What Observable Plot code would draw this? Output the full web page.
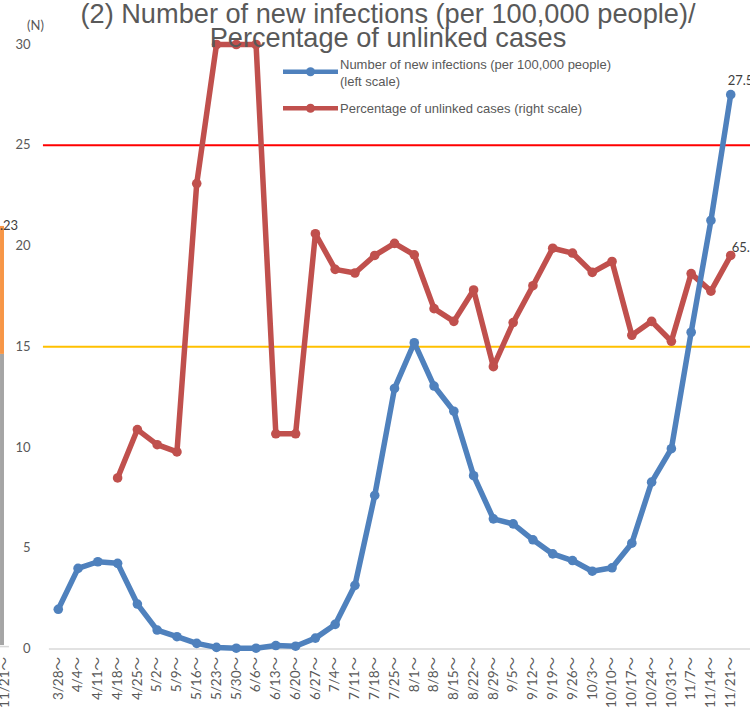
<!DOCTYPE html>
<html>
<head>
<meta charset="utf-8">
<script src="https://cdn.jsdelivr.net/npm/d3@7"></script>
<script src="https://cdn.jsdelivr.net/npm/@observablehq/plot@0.6"></script>
<style>
  html, body { margin: 0; padding: 0; background: #fff; overflow: hidden; }
  #wrap { position: relative; width: 750px; height: 714px; overflow: hidden; }
  #overlay { position: absolute; left: 0; top: 0; pointer-events: none; }
</style>
</head>
<body>
<div id="wrap"></div>
<script>
// ---- data ----
const weeks = ["3/28","4/4","4/11","4/18","4/25","5/2","5/9","5/16","5/23","5/30","6/6","6/13","6/20","6/27","7/4","7/11","7/18","7/25","8/1","8/8","8/15","8/22","8/29","9/5","9/12","9/19","9/26","10/3","10/10","10/17","10/24","10/31","11/7","11/14","11/21"];
const newInfections = [1.97,4.00,4.33,4.25,2.23,0.94,0.61,0.28,0.08,0.04,0.04,0.17,0.14,0.54,1.22,3.16,7.62,12.93,15.20,13.05,11.80,8.60,6.46,6.21,5.42,4.72,4.39,3.86,4.03,5.25,8.28,9.94,15.72,21.27,27.51];
const unlinkedPct = [null,null,null,28.3,36.3,33.8,32.6,77.0,100,100,100,35.6,35.6,68.7,62.8,62.2,65.1,67.1,65.2,56.3,54.2,59.4,46.7,54.0,60.1,66.3,65.5,62.3,64.1,51.9,54.2,50.9,62.1,59.2,65.1];
const leftTicks = [0,5,10,15,20,25,30];
const thresholds = [25, 15];
const thresholdColors = ["#FF0000", "#FFC000"];
const rightScaleMax = 100;   // right axis 0-100% shares the left 0-30 range
const leftScaleMax = 30;
// fragment of a neighbouring chart cut off at the left edge
const neighborLabel = "11/21";
const neighborParts = ["#A5A5A5", "#F79646"];
const neighborValues = [14.45, 6.35];
const neighborBase = 0.17;
const neighborTotalText = ".23";

const tilde = "\uFF5E";
const rows = weeks.map((w, i) => ({i, week: w, inf: newInfections[i], pct: unlinkedPct[i]}));
const pctRows = rows.filter(d => d.pct != null);
const last = rows[rows.length - 1];
const toLeft = p => p * leftScaleMax / rightScaleMax;

let acc = neighborBase;
const neighbor = neighborValues.map((v, k) => { const r = {color: neighborParts[k], y1: acc, y2: acc + v}; acc += v; return r; });
const NX = -2.72; // neighbour fragment position (in week-index units)

const blue = "#4F81BD", red = "#C0504D";

const chart = Plot.plot({
  width: 750,
  height: 714,
  marginLeft: 38,
  marginRight: 0,
  marginTop: 44,
  marginBottom: 65.5,
  x: {type: "linear", domain: [-1, 35]},
  y: {domain: [0, 30]},
  style: {fontFamily: "Lato, 'Noto Sans CJK JP', sans-serif", fontSize: "13px", color: "#595959", background: "transparent", overflow: "visible"},
  marks: [
    // neighbour fragment
    Plot.rect(neighbor, {x1: NX - 0.2, x2: NX, y1: "y1", y2: "y2", fill: "color"}),
    Plot.ruleY([neighborBase * 0.7], {x1: NX - 0.2, x2: NX + 0.25, stroke: "#D9D9D9", strokeWidth: 1.5}),
    Plot.text([neighborTotalText], {x: NX + 0.69, y: neighborBase + neighborValues[0] + neighborValues[1] + 0.05, text: d => d, textAnchor: "end", fill: "#404040", fontSize: 13}),
    // baseline and threshold lines
    Plot.ruleY([0], {x1: -0.45, x2: 35, stroke: "#D9D9D9", strokeWidth: 1.5}),
    Plot.ruleY(thresholds, {x1: -0.75, x2: 35, stroke: (d, k) => thresholdColors[k], strokeWidth: 2}),
    // axes
    Plot.axisY({ticks: leftTicks, tickSize: 0, tickPadding: 8, label: null, fontSize: 13, fill: "#595959"}),
    Plot.axisX({ticks: [NX, ...d3.range(weeks.length)], tickFormat: d => (d < 0 ? neighborLabel : weeks[d]) + tilde,
      tickRotate: -90, tickSize: 0, tickPadding: 8, label: null, fontSize: 13.5, fill: "#595959"}),
    // series
    Plot.line(rows, {x: "i", y: d => d.pct == null ? NaN : toLeft(d.pct), stroke: red, strokeWidth: 5.5}),
    Plot.dot(pctRows, {x: "i", y: d => toLeft(d.pct), r: 4.8, fill: red}),
    Plot.line(rows, {x: "i", y: "inf", stroke: blue, strokeWidth: 5.5}),
    Plot.dot(rows, {x: "i", y: "inf", r: 4.8, fill: blue}),
    // data labels
    Plot.text([last], {x: "i", y: "inf", text: d => d.inf.toFixed(2), textAnchor: "start", lineAnchor: "bottom", dx: -3, dy: -10, fill: "#404040", fontSize: 13}),
    Plot.text([last], {x: "i", y: d => toLeft(d.pct), text: d => d.pct.toFixed(1), textAnchor: "start", lineAnchor: "bottom", dx: 1, dy: -3, fill: "#404040", fontSize: 13})
  ]
});
document.getElementById("wrap").appendChild(chart);

// overlay: title, unit label, legend
const ov = d3.select("#wrap").append("svg").attr("id", "overlay").attr("width", 750).attr("height", 714);
const titleLines = ["(2) Number of new infections (per 100,000 people)/", "Percentage of unlinked cases"];
const titleY = [23, 46.5];
titleLines.forEach((t, k) => ov.append("text").attr("x", 388).attr("y", titleY[k]).attr("text-anchor", "middle")
  .attr("font-family", "'Liberation Sans', Arial, sans-serif").attr("font-size", 27.2).attr("fill", "#595959").text(t));
ov.append("text").attr("x", 27).attr("y", 30).attr("font-family", "Lato, sans-serif").attr("font-size", 13).attr("fill", "#595959").text("(N)");

const legendItems = [
  {color: blue, lines: ["Number of new infections (per 100,000 people)", "(left scale)"], y: 71.7, ty: 69.3},
  {color: red, lines: ["Percentage of unlinked cases (right scale)"], y: 108.3, ty: 113}
];
legendItems.forEach(it => {
  ov.append("line").attr("x1", 283).attr("x2", 338).attr("y1", it.y).attr("y2", it.y).attr("stroke", it.color).attr("stroke-width", 4.5);
  ov.append("circle").attr("cx", 310.5).attr("cy", it.y).attr("r", 4.5).attr("fill", it.color);
  it.lines.forEach((l, k) => ov.append("text").attr("x", 340).attr("y", it.ty + k * 16.3)
    .attr("font-family", "'Liberation Sans', Arial, sans-serif").attr("font-size", 13).attr("fill", "#595959").text(l));
});
</script>
</body>
</html>
